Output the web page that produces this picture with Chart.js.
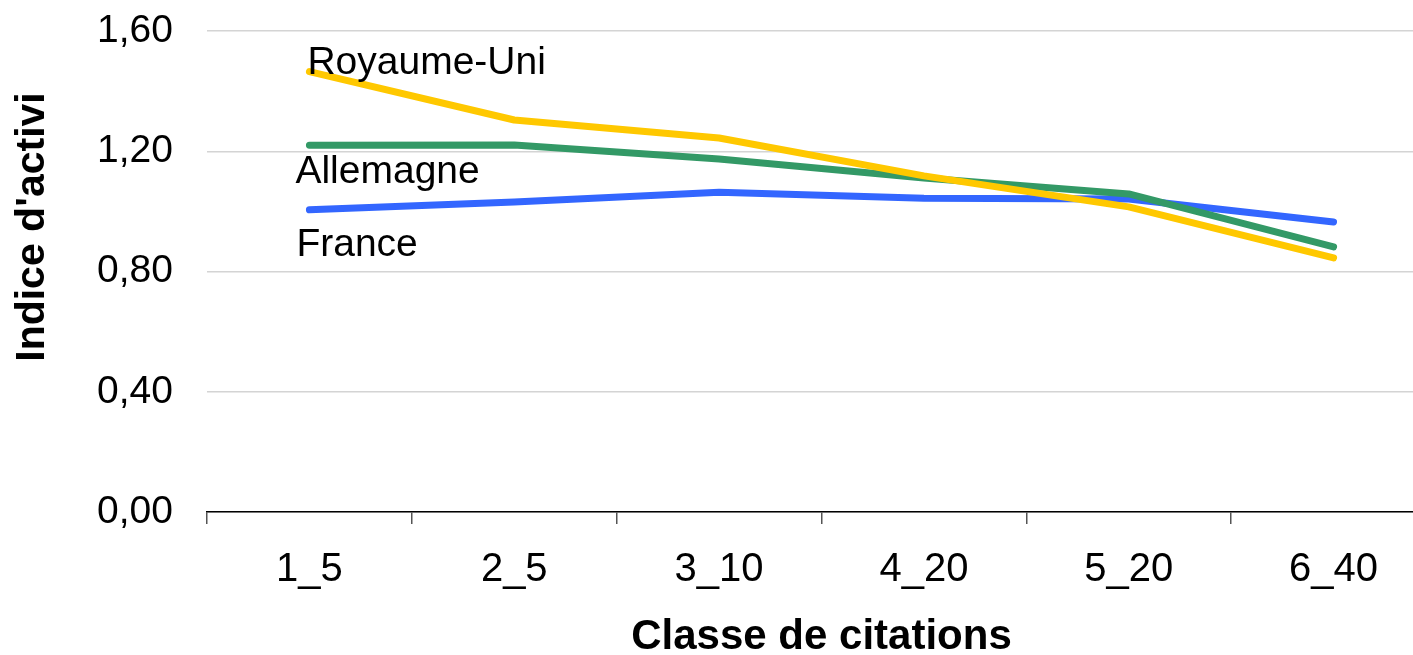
<!DOCTYPE html>
<html>
<head>
<meta charset="utf-8">
<script src="https://cdn.jsdelivr.net/npm/chart.js@4.4.1/dist/chart.umd.min.js"></script>
<style>
    html, body { margin: 0; padding: 0; background: #fff; overflow: hidden; }
</style>
</head>
<body>
<canvas id="activite_chart" width="1445" height="655"></canvas>
<script>
const categories = ['1_5', '2_5', '3_10', '4_20', '5_20', '6_40'];
const royaumeUni = [1.465, 1.304, 1.244, 1.118, 1.015, 0.845];
const allemagne = [1.220, 1.221, 1.174, 1.111, 1.058, 0.882];
const france = [1.005, 1.031, 1.064, 1.044, 1.041, 0.965];
const seriesNames = ['Royaume-Uni', 'Allemagne', 'France'];

const FONT = '"Liberation Sans", Arial, sans-serif';

// libellés des séries, placés près du premier point de chaque courbe
const seriesLabels = {
    id: 'seriesLabels',
    afterDatasetsDraw(chart) {
        const c = chart.ctx;
        const offsets = [[-2, 2], [-14, 38], [-13, 46]];
        c.save();
        c.font = '39px ' + FONT;
        c.fillStyle = '#000';
        c.textBaseline = 'alphabetic';
        chart.data.datasets.forEach(function (ds, i) {
            const pt = chart.getDatasetMeta(i).data[0];
            c.fillText(ds.label, pt.x + offsets[i][0], pt.y + offsets[i][1]);
        });
        c.restore();
    }
};

// titre vertical, coupé comme dans l'original
const yTitle = {
    id: 'yTitle',
    afterDraw(chart) {
        const c = chart.ctx;
        c.save();
        c.translate(44, 227);
        c.rotate(-Math.PI / 2);
        c.font = 'bold 41px ' + FONT;
        c.fillStyle = '#000';
        c.textAlign = 'center';
        c.fillText("Indice d'activi", 0, 0);
        c.restore();
    }
};

const ctx = document.getElementById('activite_chart').getContext('2d');
new Chart(ctx, {
    type: 'line',
    data: {
        labels: categories,
        datasets: [
            { label: seriesNames[0], data: royaumeUni, borderColor: '#FFC800' },
            { label: seriesNames[1], data: allemagne, borderColor: '#339966' },
            { label: seriesNames[2], data: france, borderColor: '#3366FF' }
        ]
    },
    options: {
        responsive: false,
        animation: false,
        devicePixelRatio: 1,
        layout: { padding: { top: 31, right: 9, left: 0, bottom: 0 } },
        elements: {
            line: { borderWidth: 7, tension: 0, borderCapStyle: 'round', borderJoinStyle: 'round' },
            point: { radius: 0, hoverRadius: 0 }
        },
        plugins: {
            legend: { display: false },
            tooltip: { enabled: false }
        },
        scales: {
            x: {
                offset: true,
                grid: {
                    offset: true,
                    drawOnChartArea: false,
                    drawTicks: true,
                    tickLength: 12,
                    color: '#555',
                    lineWidth: 1.5
                },
                border: { display: true, color: '#000', width: 1.5 },
                ticks: {
                    color: '#000',
                    padding: 22,
                    font: { family: FONT, size: 40 }
                },
                title: {
                    display: true,
                    text: 'Classe de citations',
                    color: '#000',
                    padding: { top: 0, bottom: 0 },
                    font: { family: FONT, size: 42, weight: 'bold', lineHeight: 0.85 }
                },
                afterFit(scale) { scale.height = 143; }
            },
            y: {
                min: 0,
                max: 1.6,
                grid: {
                    drawTicks: true,
                    tickLength: 34,
                    tickColor: 'rgba(0,0,0,0)',
                    color: '#d4d4d4',
                    lineWidth: 1.5
                },
                border: { display: false },
                ticks: {
                    stepSize: 0.4,
                    color: '#000',
                    padding: 0,
                    font: { family: FONT, size: 39 },
                    callback: function (v) { return v.toFixed(2).replace('.', ','); }
                },
                afterFit(scale) { scale.width = 207; }
            }
        }
    },
    plugins: [seriesLabels, yTitle]
});
</script>
</body>
</html>
